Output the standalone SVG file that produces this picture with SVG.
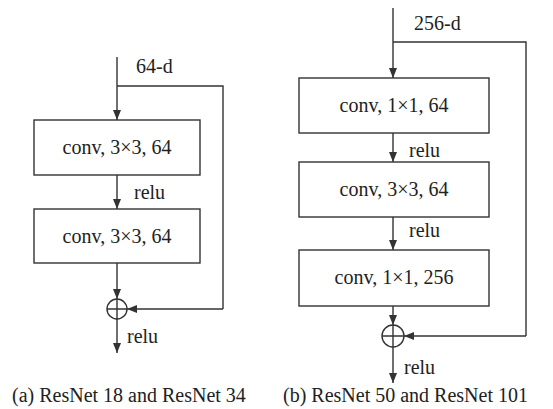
<svg xmlns="http://www.w3.org/2000/svg" width="553" height="409" viewBox="0 0 553 409">
<style>
text{font-family:'Liberation Serif',serif;font-size:20px;fill:#222}
.c{text-anchor:middle}
.box{fill:#fff;stroke:#333;stroke-width:1.4}
.ln{fill:none;stroke:#333;stroke-width:1.4}
.ar{fill:none;stroke:#333;stroke-width:1.4;marker-end:url(#ah)}
</style>
<defs>
<marker id="ah" markerWidth="10" markerHeight="8" refX="10" refY="4" orient="auto" markerUnits="userSpaceOnUse">
<path d="M0,0 L10,4 L0,8 Z" fill="#333"/>
</marker>
</defs>
<g id="connectors">
<path class="ar" d="M117,57 V120"/>
<path class="ln" d="M117,86 H223 V309"/>
<path class="ar" d="M223,309 H127"/>
<path class="ar" d="M117,175 V209"/>
<path class="ar" d="M117,263 V299"/>
<path class="ar" d="M117,319 V353"/>
<path class="ar" d="M393,8 V78"/>
<path class="ln" d="M393,42 H526 V336"/>
<path class="ar" d="M526,336 H404"/>
<path class="ar" d="M393,133 V162"/>
<path class="ar" d="M393,217 V250"/>
<path class="ar" d="M393,306 V325"/>
<path class="ar" d="M393,347 V383"/>
</g>
<g id="labels">
<text x="136" y="73">64-d</text>
<text x="134" y="199">relu</text>
<text x="127" y="343">relu</text>
<text x="414" y="30">256-d</text>
<text x="409" y="157">relu</text>
<text x="409" y="237">relu</text>
<text x="404" y="374">relu</text>
</g>
<g id="a_conv1"><rect class="box" x="34" y="120" width="166" height="55"/><text class="c" x="117" y="154">conv, 3×3, 64</text></g>
<g id="a_conv2"><rect class="box" x="34" y="209" width="166" height="54"/><text class="c" x="117" y="243">conv, 3×3, 64</text></g>
<g id="a_add"><circle class="ln" cx="117" cy="309" r="10"/><path class="ln" d="M107,309 H127 M117,299 V319"/></g>
<g id="b_conv1"><rect class="box" x="299" y="78" width="190" height="55"/><text class="c" x="394" y="112">conv, 1×1, 64</text></g>
<g id="b_conv2"><rect class="box" x="299" y="162" width="190" height="55"/><text class="c" x="394" y="196">conv, 3×3, 64</text></g>
<g id="b_conv3"><rect class="box" x="299" y="250" width="190" height="56"/><text class="c" x="394" y="284">conv, 1×1, 256</text></g>
<g id="b_add"><circle class="ln" cx="393" cy="336" r="11"/><path class="ln" d="M382,336 H404 M393,325 V347"/></g>
<g id="captions">
<text x="12" y="402">(a) ResNet 18 and ResNet 34</text>
<text x="283" y="402">(b) ResNet 50 and ResNet 101</text>
</g>
</svg>
